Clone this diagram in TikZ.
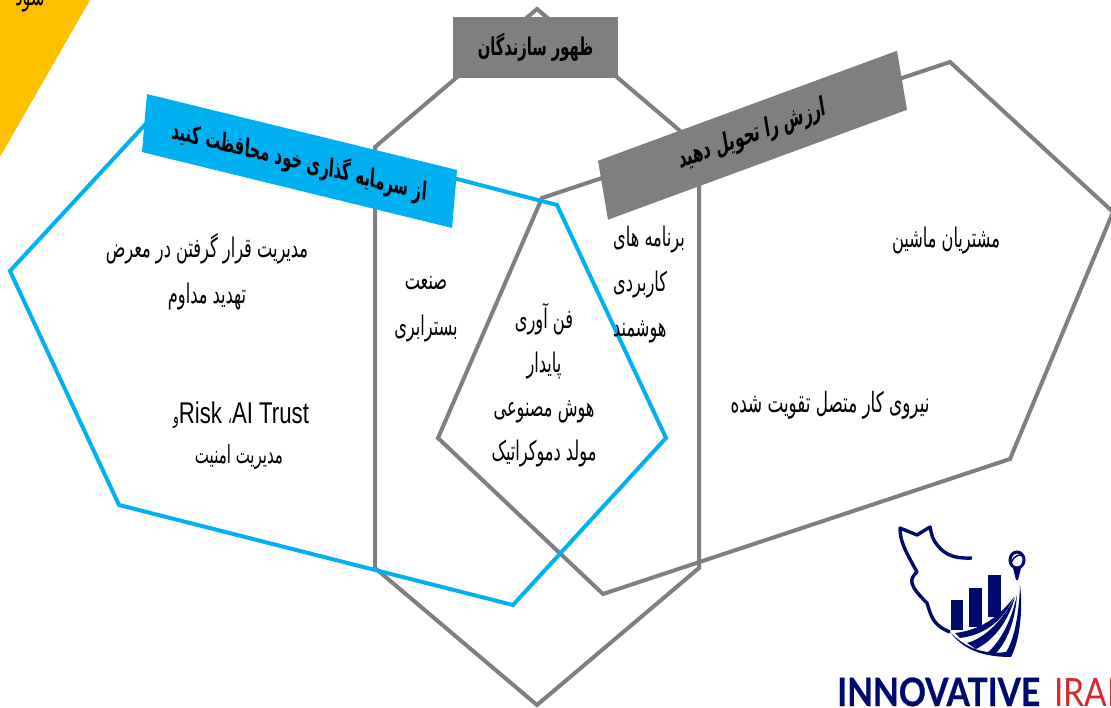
\documentclass[tikz,border=0pt]{standalone}
\usepackage{fontspec}
\usetikzlibrary{positioning}
\TeXXeTstate=1
\newfontfamily\arabicfont[Script=Arabic,FakeStretch=0.6]{DejaVu Sans}
\newfontfamily\latinfont[FakeStretch=0.74]{Liberation Sans}
\newfontfamily\logofont[FakeStretch=0.86]{Lato}
\newcommand{\fa}[1]{\beginR #1\endR}
\definecolor{hexgray}{HTML}{7F7F7F}
\definecolor{hexblue}{HTML}{00B0F0}
\definecolor{cornergold}{HTML}{FFC000}
\definecolor{logonavy}{HTML}{000A6E}
\definecolor{logored}{HTML}{D8262C}

\begin{document}
\begin{tikzpicture}[
                x=1pt, y=-1pt,
                grayhex/.style={draw=hexgray,line width=4pt,line join=miter},
                bluehex/.style={draw=hexblue,line width=4pt,line join=miter},
                banner/.style={rectangle,inner sep=0pt,text=black,font=\arabicfont\bfseries\fontsize{26}{30}\selectfont},
                body/.style={align=center,text=black,inner sep=0pt,font=\arabicfont\fontsize{27}{46}\selectfont},
                logobar/.style={fill=logonavy,draw=none},
            ]
            \useasboundingbox (0,0) rectangle (1111,707);
            \clip (0,0) rectangle (1111,707);

            % Corner
            \fill[cornergold] (0,0) -- (90,0) -- (0,157) -- cycle;
            \node[banner,font=\arabicfont\fontsize{27}{30}\selectfont] (cornertext) at (30,1) {\fa{شود}};

            % Draw hexagons
            \draw[grayhex] (537,9) -- (375,147) -- (375,568) -- (537,705) -- (699,568) -- (699,147) -- cycle;
            \draw[grayhex] (438,438) -- (542,198) -- (950,62) -- (1113,212) -- (1010,459) -- (603,594) -- cycle;
            \draw[bluehex] (10,271) -- (165,103) -- (557,205) -- (666,438) -- (513,605) -- (119,505) -- cycle;

            % Define banners
            \begin{scope}[shift={(299.5,161)},cm={0.972,-0.238,0.086,1,(0,0)}]
                \node[banner,transform shape,fill=hexblue,minimum width=319pt,minimum height=58pt,font=\arabicfont\bfseries\fontsize{25}{30}\selectfont] (protect) at (0,0) {\fa{از سرمایه گذاری خود محافظت کنید}\hspace{50pt}};
            \end{scope}
            \node[banner,fill=hexgray,minimum width=165pt,minimum height=61pt,font=\arabicfont\bfseries\fontsize{24.5}{30}\selectfont] (makers) at (535.5,47.5) {\fa{ظهور سازندگان}};
            \begin{scope}[shift={(752.5,135.25)},cm={0.9385,0.345,-0.169,1,(0,0)}]
                \node[banner,transform shape,fill=hexgray,minimum width=318.6pt,minimum height=59pt] (deliver) at (0,0) {\fa{ارزش را تحویل دهید}};
            \end{scope}

            % Define texts
            \node[body] (threat) at (207,272) {\fa{مدیریت قرار گرفتن در معرض}\\\fa{تهدید مداوم}};
            \node[body,font=\latinfont\fontsize{30}{34}\selectfont] (trust) at (241,415) {\fa{\beginL AI Trust\endL{}{\arabicfont\fontsize{20}{34}\selectfont ،}\ \beginL Risk\endL{}{\arabicfont\fontsize{20}{34}\selectfont و}}};
            \node[body,font=\arabicfont\fontsize{25}{46}\selectfont] (security) at (239,457) {\fa{مدیریت امنیت}};
            \node[body] (infra) at (426,309) {\fa{صنعت}\\\fa{بسترابری}};
            \node[body,font=\arabicfont\fontsize{27}{44}\selectfont] (sustain) at (544,385) {\fa{فن آوری}\\\fa{پایدار}\\\fa{هوش مصنوعی}\\\fa{مولد دموکراتیک}};
            \node[body,anchor=west,align=left,font=\arabicfont\fontsize{27}{45}\selectfont] (apps) at (613,285) {\fa{برنامه های}\\\fa{کاربردی}\\\fa{هوشمند}};
            \node[body] (machine) at (946,241) {\fa{مشتریان ماشین}};
            \node[body,font=\arabicfont\fontsize{28}{46}\selectfont] (workforce) at (830,405) {\fa{نیروی کار متصل تقویت شده}};

            % Draw logo
            \draw[logonavy,line width=3.4pt,line join=round] (972,558) .. controls (950,559) and (942,552) .. (935,542) .. controls (931,536) and (931,530) .. (930,527) -- (917,535) -- (900,528) .. controls (900,542) and (906,552) .. (917,572) .. controls (908,580) and (910,586) .. (927,603) .. controls (931,615) and (932,625) .. (950,632);
            \fill[logonavy] (950,632) .. controls (962,648) and (980,657) .. (1011,657) .. controls (1020,640) and (1023,610) .. (1020,585) .. controls (1019,615) and (1014,640) .. (1006,652) .. controls (985,655) and (965,648) .. (950,632) -- cycle;
            \fill[logobar] (951,600) rectangle (963,630);
            \fill[logobar] (969,588) rectangle (982,627);
            \fill[logobar] (988,575) rectangle (1001,617);
            \fill[logonavy] (955,633) .. controls (980,630) and (998,618) .. (1014,597) .. controls (1004,620) and (985,635) .. (960,638) -- cycle;
            \fill[logonavy] (967,643) .. controls (985,638) and (1003,620) .. (1015,597) .. controls (1008,622) and (994,640) .. (976,649) -- cycle;
            \fill[logonavy] (987,653) .. controls (1000,642) and (1011,622) .. (1017,595) .. controls (1015,622) and (1007,642) .. (995,654) -- cycle;
            \draw[logonavy,line width=3pt] (1017,560) ellipse (7pt and 8pt);
            \draw[logonavy,line width=1.5pt] (1011,563) .. controls (1015,554) and (1020,554) .. (1024,556);
            \fill[logonavy] (1013,568) -- (1021,568) -- (1018,580) -- (1016,580) -- cycle;
            \node[anchor=base west,inner sep=0pt,font=\logofont\bfseries\fontsize{39}{40}\selectfont,text=logonavy] (logoname) at (837,706) {\addfontfeature{FakeBold=0.6}INNOVATIVE};
            \node[anchor=base west,inner sep=0pt,font=\logofont\fontsize{39}{40}\selectfont,text=logored] (logoiran) at (1054,706) {IRAN};

            \end{tikzpicture}
\end{document}
